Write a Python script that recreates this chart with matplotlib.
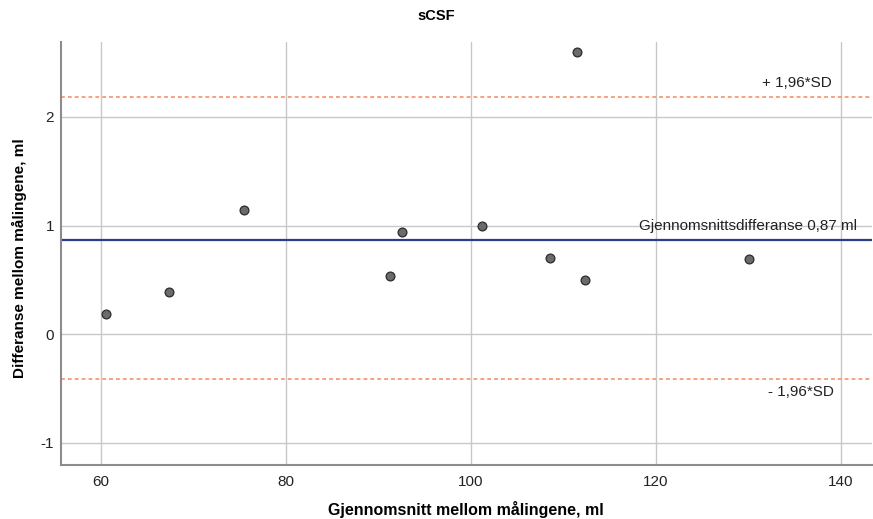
import matplotlib
matplotlib.use("Agg")
import matplotlib.pyplot as plt

# Bland-Altman data (sCSF)
mean_vals = [60.5, 67.3, 75.5, 91.2, 92.5, 101.2, 108.5, 111.5, 112.35, 130.1]
diff_vals = [0.19, 0.39, 1.14, 0.54, 0.94, 1.00, 0.70, 2.60, 0.50, 0.69]
mean_diff = 0.87
upper_loa = 2.18
lower_loa = -0.41

x_ticks = [60, 80, 100, 120, 140]
y_ticks = [-1, 0, 1, 2]

plt.rcParams['font.family'] = ['Liberation Sans', 'DejaVu Sans']
plt.rcParams['axes.unicode_minus'] = False

fig = plt.figure(figsize=(8.73, 5.19), dpi=100)
ax = fig.add_axes([60.5 / 873, 54 / 519, 811.5 / 873, 423 / 519])

ax.set_xlim(55.62, 143.35)
ax.set_ylim(-1.203, 2.69)
ax.set_xticks(x_ticks)
ax.set_yticks(y_ticks)
ax.grid(True, color='#c8c8c8', linewidth=1.0)
ax.set_axisbelow(True)

for side in ['top', 'right']:
    ax.spines[side].set_visible(False)
for side in ['left', 'bottom']:
    ax.spines[side].set_color('#8c8c8c')
    ax.spines[side].set_linewidth(1.5)
ax.tick_params(length=0, labelsize=11, colors='#222222')
ax.tick_params(axis='x', pad=7)
ax.tick_params(axis='y', pad=4.5)

ax.axhline(upper_loa, color='#f5885a', linestyle=(0, (2.5, 2)), linewidth=1.1)
ax.axhline(lower_loa, color='#f5885a', linestyle=(0, (2.5, 2)), linewidth=1.1)
ax.axhline(mean_diff, color='#263f8c', linewidth=1.6)

ax.scatter(mean_vals, diff_vals, s=40, color='#6b6b6b', edgecolors='#2b2b2b',
           linewidths=0.9, zorder=3)

ax.text(139.0, upper_loa + 0.07, '+ 1,96*SD', ha='right', va='bottom',
        fontsize=11, color='#222222')
ax.text(139.2, lower_loa - 0.06, '- 1,96*SD', ha='right', va='top',
        fontsize=11, color='#222222')
ax.text(141.7, mean_diff + 0.06, 'Gjennomsnittsdifferanse 0,87 ml', ha='right',
        va='bottom', fontsize=11, color='#222222')

fig.text(0.5, 1 - 16 / 519, 'sCSF', ha='center', va='center',
         fontsize=10.5, fontweight='bold')
ax.set_xlabel('Gjennomsnitt mellom målingene, ml', fontsize=11.5,
              fontweight='bold', va='center')
ax.xaxis.set_label_coords(0.5, -45 / 423)
ax.set_ylabel('Differanse mellom målingene, ml', fontsize=11,
              fontweight='bold', va='center')
ax.yaxis.set_label_coords(-41 / 811.5, 0.49)

fig.savefig('out.png', dpi=100)
